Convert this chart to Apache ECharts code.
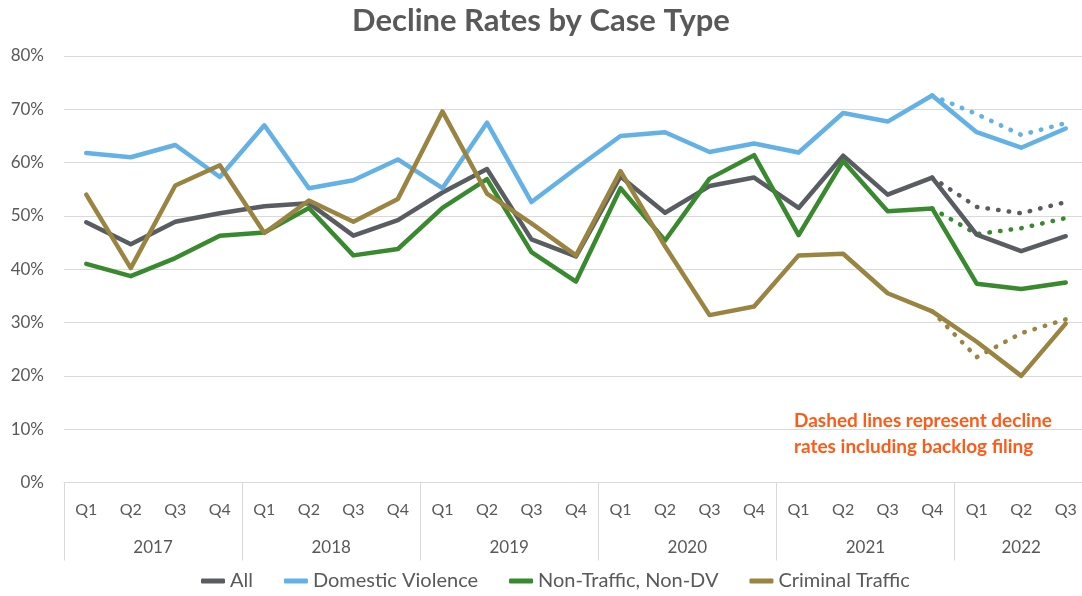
<!DOCTYPE html>
<html>
<head>
<meta charset="utf-8">
<title>Decline Rates by Case Type</title>
<script src="https://cdn.jsdelivr.net/npm/echarts@6/dist/echarts.min.js"></script>
<style>
  html, body { margin: 0; padding: 0; background: #fff; }
  #chart { width: 1082px; height: 596px; }
</style>
</head>
<body>
<div id="chart"></div>
<script>
// quarters (lower axis row) and years (upper axis row)
var quarters = ['Q1','Q2','Q3','Q4','Q1','Q2','Q3','Q4','Q1','Q2','Q3','Q4',
                'Q1','Q2','Q3','Q4','Q1','Q2','Q3','Q4','Q1','Q2','Q3'];
var years = ['2017','2018','2019','2020','2021','2022'];
var quartersPerYear = [4, 4, 4, 4, 4, 3];

// decline rates, percent
var allCases     = [48.8,44.7,48.9,50.5, 51.8,52.4,46.3,49.2, 54.4,58.8,45.6,42.4,
                    57.4,50.6,55.6,57.2, 51.5,61.3,54.0,57.2, 46.5,43.4,46.2];
var domesticViol = [61.8,61.0,63.3,57.3, 67.0,55.2,56.7,60.6, 55.2,67.5,52.6,58.9,
                    65.0,65.7,62.0,63.6, 61.9,69.3,67.7,72.6, 65.7,62.8,66.4];
var nonTraffic   = [41.0,38.7,42.1,46.3, 46.9,51.5,42.6,43.8, 51.5,56.9,43.2,37.7,
                    55.2,45.4,57.0,61.4, 46.4,60.3,50.9,51.4, 37.3,36.3,37.5];
var crimTraffic  = [54.0,40.2,55.7,59.5, 46.8,52.9,48.9,53.2, 69.6,54.2,48.6,42.6,
                    58.4,44.3,31.4,33.0, 42.6,42.9,35.5,32.1, 26.4,20.0,29.8];

// including backlog filing, from 2021 Q4 onward
var backlogStart = 19;
var allBacklog   = [57.2, 51.7, 50.5, 52.6];
var dvBacklog    = [72.6, 69.1, 65.2, 67.4];
var ntBacklog    = [51.4, 46.6, 47.7, 49.6];
var ctBacklog    = [32.1, 23.5, 28.0, 30.6];

var colors = {
  all: '#595c61',
  dv: '#63b1e5',
  nt: '#398a2f',
  ct: '#9a8441'
};
var FONT = 'Lato, "Noto Sans", sans-serif';
var GREY = '#595959';

// padded series for the dotted lines
function padBacklog(arr) {
  var out = [];
  for (var i = 0; i < quarters.length; i++) out.push(null);
  for (var j = 0; j < arr.length; j++) out[backlogStart + j] = arr[j];
  return out;
}

// year row: 2 slots per quarter on a point axis, so year centers + boundaries fall on points
var yearSlots = [];
var yearTicks = {};
var pos = 0;
for (var i = 0; i <= quarters.length * 2; i++) yearSlots.push('');
yearTicks[0] = true;
for (var y = 0; y < years.length; y++) {
  yearSlots[pos * 2 + quartersPerYear[y]] = years[y];
  pos += quartersPerYear[y];
  yearTicks[pos * 2] = true;
}

function solid(name, data, color) {
  return {
    name: name, type: 'line', data: data,
    showSymbol: false, symbol: 'none',
    lineStyle: { width: 4.5, color: color, cap: 'round', join: 'round' },
    itemStyle: { color: color },
    emphasis: { disabled: true }
  };
}
function dotted(name, data, color) {
  return {
    name: name, type: 'line', data: padBacklog(data),
    showSymbol: false, symbol: 'none', connectNulls: false,
    lineStyle: { width: 4.5, color: color, type: [0.5, 10.2], cap: 'round' },
    itemStyle: { color: color },
    emphasis: { disabled: true }
  };
}

var chart = echarts.init(document.getElementById('chart'));
var option = {
  animation: false,
  title: [{
    text: 'Decline Rates by Case Type',
    left: 'center', top: 0,
    textStyle: { fontFamily: FONT, fontSize: 31, fontWeight: 'bold', color: GREY }
  }, {
    text: 'Dashed lines represent decline\nrates including backlog filing',
    left: 789, top: 403,
    textStyle: { fontFamily: FONT, fontSize: 19, fontWeight: 'bold', color: '#ff5a17', lineHeight: 26 }
  }],
  legend: {
    data: ['All', 'Domestic Violence', 'Non-Traffic, Non-DV', 'Criminal Traffic'],
    bottom: 0, left: 196,
    icon: 'roundRect', itemWidth: 24, itemHeight: 5, itemGap: 31,
    textStyle: { fontFamily: FONT, fontSize: 20, color: GREY }
  },
  grid: { left: 64, width: 1024, top: 56, height: 426.5, outerBoundsMode: 'none', containLabel: false },
  xAxis: [{
    type: 'category', data: quarters, boundaryGap: true,
    axisLine: { show: true, lineStyle: { color: '#d9d9d9', width: 1 } },
    axisTick: { show: false },
    axisLabel: { fontFamily: FONT, fontSize: 16, color: GREY, margin: 19, interval: 0 }
  }, {
    type: 'category', data: yearSlots, boundaryGap: false, position: 'bottom',
    axisLine: { show: false },
    axisTick: {
      show: true, length: 78,
      interval: function (idx) { return !!yearTicks[idx]; },
      lineStyle: { color: '#d9d9d9', width: 1 }
    },
    axisLabel: { fontFamily: FONT, fontSize: 17, color: GREY, margin: 57, interval: 0 },
    splitLine: { show: false }
  }],
  yAxis: {
    type: 'value', min: 0, max: 80, interval: 10,
    axisLabel: { formatter: '{value}%', fontFamily: FONT, fontSize: 17, color: GREY, margin: 20 },
    axisLine: { show: false }, axisTick: { show: false },
    splitLine: { lineStyle: { color: '#d9d9d9', width: 1 } }
  },
  series: [
    dotted('All incl. backlog', allBacklog, colors.all),
    dotted('DV incl. backlog', dvBacklog, colors.dv),
    dotted('NT incl. backlog', ntBacklog, colors.nt),
    dotted('CT incl. backlog', ctBacklog, colors.ct),
    solid('All', allCases, colors.all),
    solid('Domestic Violence', domesticViol, colors.dv),
    solid('Non-Traffic, Non-DV', nonTraffic, colors.nt),
    solid('Criminal Traffic', crimTraffic, colors.ct)
  ]
};
chart.setOption(option);
</script>
</body>
</html>
